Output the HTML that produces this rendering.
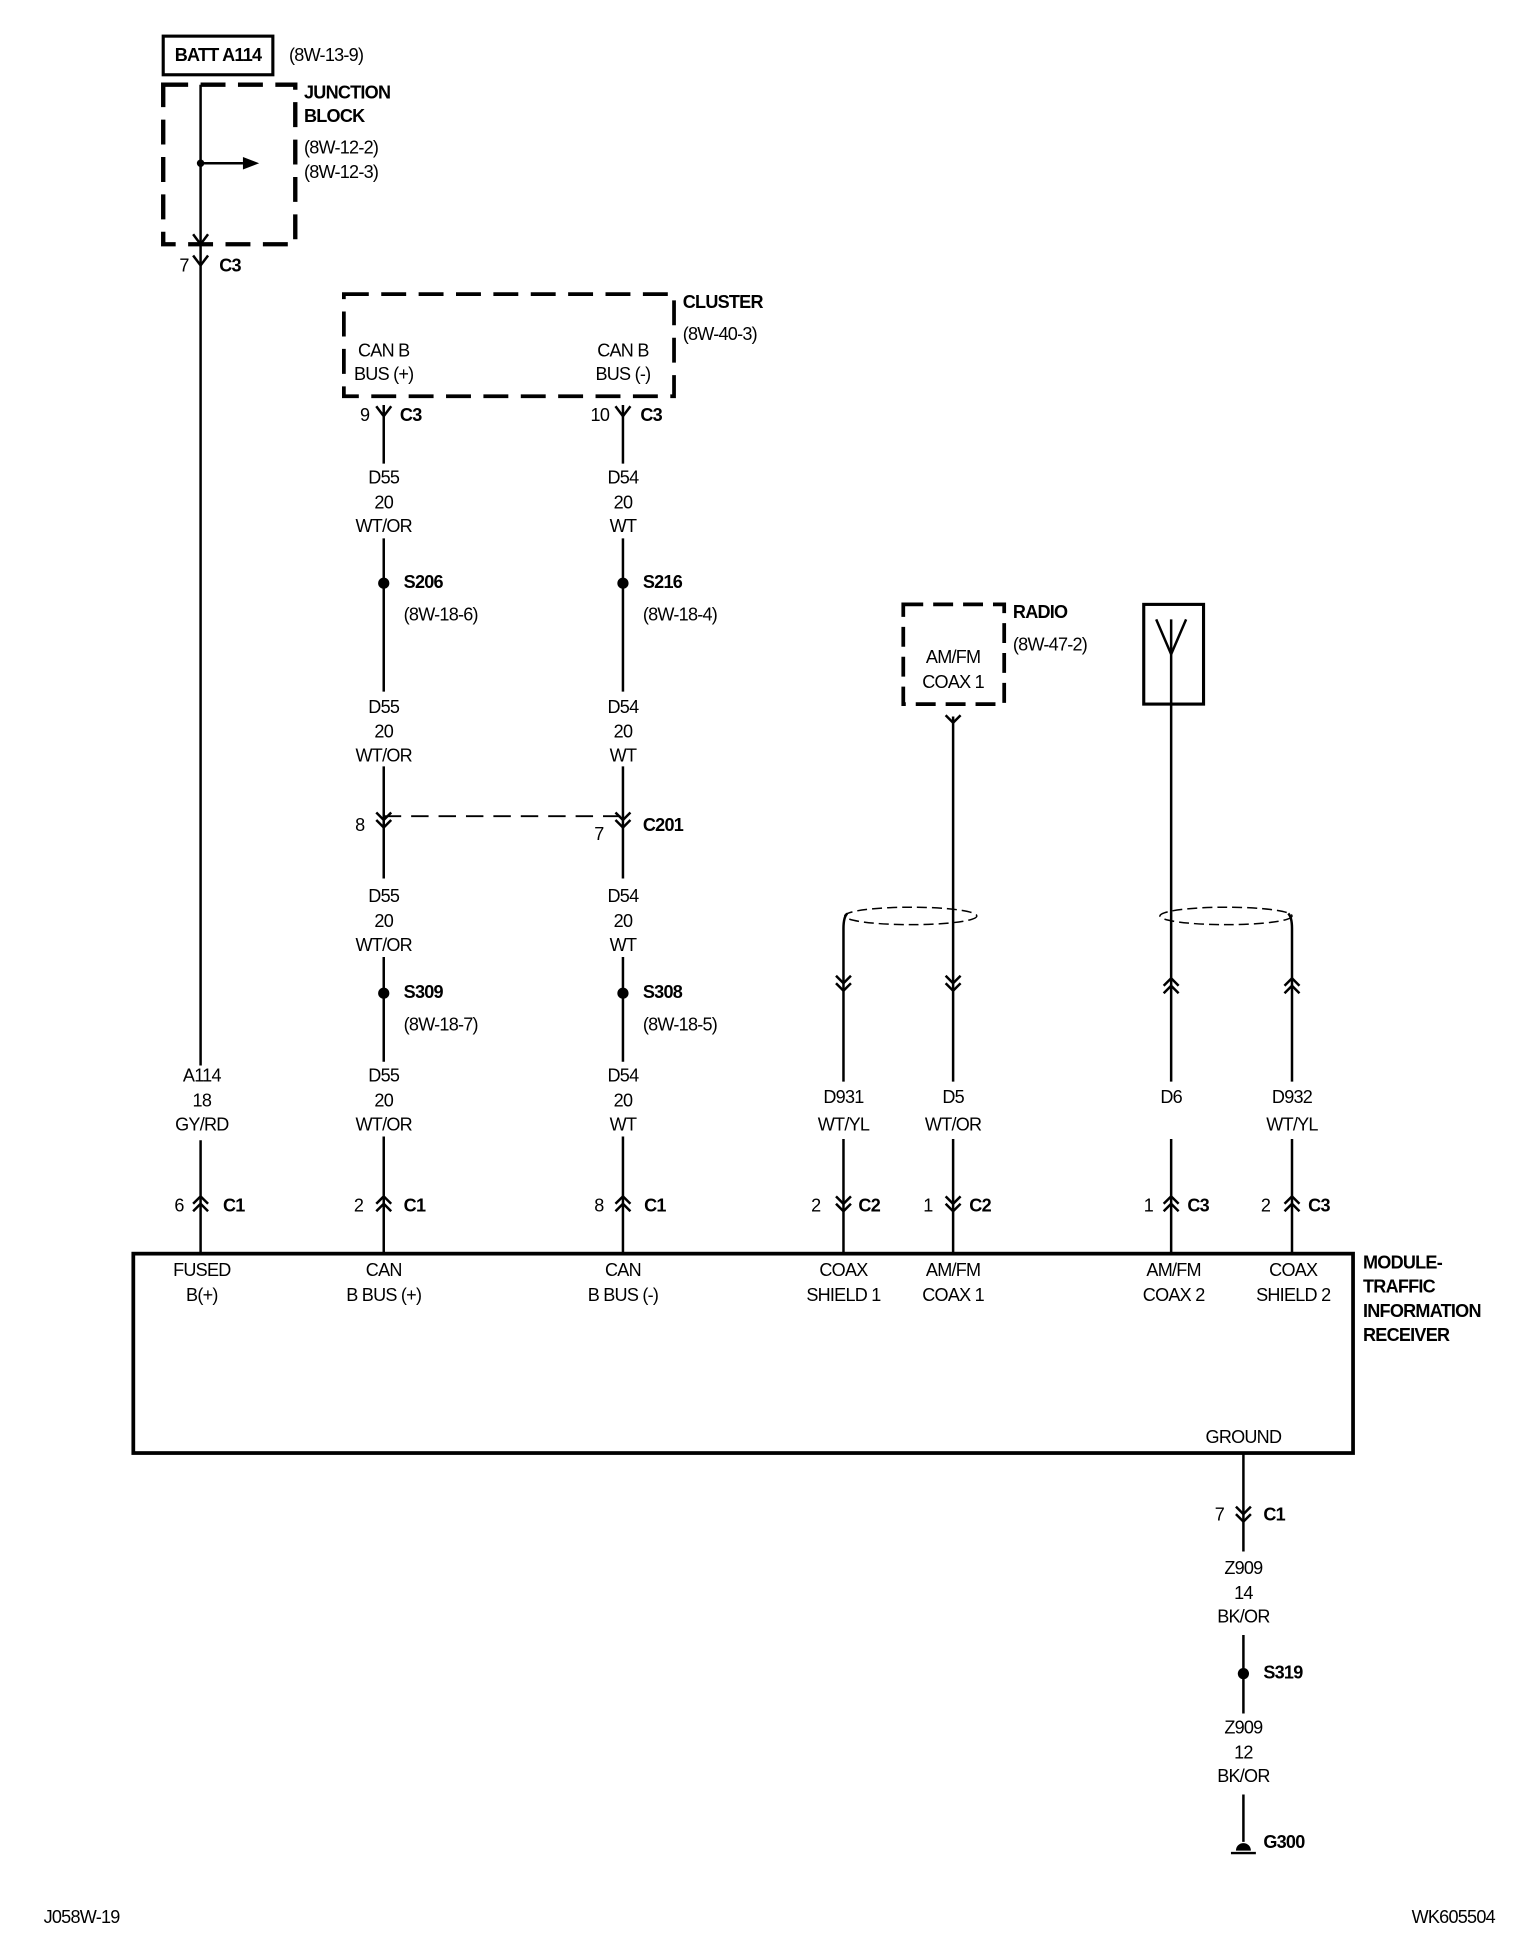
<!DOCTYPE html>
<html><head><meta charset="utf-8"><style>
html,body{margin:0;padding:0;background:#fff}
svg{display:block}
text{font-family:"Liberation Sans",Arial,sans-serif;font-size:14.5px;fill:#000;letter-spacing:-0.6px}
.b{font-weight:bold}
.m{text-anchor:middle}
</style></head><body>
<svg width="1520" height="1954" viewBox="0 0 1220 1568" preserveAspectRatio="none" xmlns="http://www.w3.org/2000/svg">
<g stroke="#000" fill="none" stroke-width="2">
<!-- BATT box -->
<rect x="131" y="29" width="88" height="31" stroke-width="2.5"/>
<!-- Junction block dashed -->
<rect x="131" y="68" width="106" height="128" stroke-width="3.5" stroke-dasharray="20,10"/>
<line x1="161" y1="68" x2="161" y2="855"/>
<line x1="161" y1="915" x2="161" y2="1006"/>
<line x1="161" y1="131" x2="195" y2="131"/>
<line x1="155" y1="188" x2="161" y2="196"/><line x1="167" y1="188" x2="161" y2="196"/>
<!-- 7 C3 Y -->
<line x1="155" y1="205" x2="161" y2="213"/><line x1="167" y1="205" x2="161" y2="213"/>
<!-- Cluster -->
<rect x="276" y="236" width="265" height="82" stroke-width="3" stroke-dasharray="20,10"/>
<!-- wires 308/500 -->
<path d="M308 325V372M308 432V555M308 615V705M308 768V852M308 912V1006"/>
<path d="M500 325V372M500 432V555M500 615V705M500 768V852M500 912V1006"/>
<path d="M302 326L308 334L314 326M494 326L500 334L506 326"/>
<!-- C201 -->
<path d="M302 652L308 658L314 652M302 658L308 664L314 658"/>
<path d="M494 652L500 658L506 652M494 658L500 664L506 658"/>
<line x1="308" y1="655" x2="500" y2="655" stroke-dasharray="14,8" stroke-width="1.5"/>
<!-- Radio -->
<rect x="725" y="485" width="81" height="80" stroke-width="3" stroke-dasharray="16,8"/>
<path d="M759 574L765 580L771 574"/>
<path d="M765 575V868M765 914V1006"/>
<!-- Antenna -->
<rect x="918" y="485" width="48" height="80" stroke-width="2.5"/>
<path d="M928 497L940 525L952 497"/>
<path d="M940 497V868M940 914V1006"/>
<!-- shields -->
<ellipse cx="731" cy="735" rx="53" ry="7" stroke-width="1.2" stroke-dasharray="8,4"/>
<ellipse cx="984" cy="735" rx="53" ry="7" stroke-width="1.2" stroke-dasharray="8,4"/>
<path d="M680 733Q677 736 677 745V868M677 914V1006"/>
<path d="M1034 733Q1037 736 1037 745V868M1037 914V1006"/>
<!-- chevrons y790 -->
<path d="M671 783L677 789L683 783M671 789L677 795L683 789"/>
<path d="M759 783L765 789L771 783M759 789L765 795L771 789"/>
<path d="M934 791L940 785L946 791M934 797L940 791L946 797"/>
<path d="M1031 791L1037 785L1043 791M1031 797L1037 791L1043 797"/>
<!-- bottom connectors y967 -->
<path d="M155 966L161 960L167 966M155 972L161 966L167 972"/>
<path d="M302 966L308 960L314 966M302 972L308 966L314 972"/>
<path d="M494 966L500 960L506 966M494 972L500 966L506 972"/>
<path d="M671 960L677 966L683 960M671 966L677 972L683 966"/>
<path d="M759 960L765 966L771 960M759 966L765 972L771 966"/>
<path d="M934 966L940 960L946 966M934 972L940 966L946 972"/>
<path d="M1031 966L1037 960L1043 966M1031 972L1037 966L1043 972"/>
<!-- module -->
<rect x="107" y="1006" width="979" height="160" stroke-width="3"/>
<!-- ground wire -->
<path d="M998 1166V1245M998 1312V1375M998 1440V1478"/>
<path d="M992 1209L998 1215L1004 1209M992 1215L998 1221L1004 1215"/>
<line x1="988" y1="1487" x2="1008" y2="1487"/>
</g>
<g fill="#000">
<polygon points="195,126 208,131 195,136"/>
<circle cx="161" cy="131" r="3"/>
<circle cx="308" cy="468" r="4.5"/><circle cx="500" cy="468" r="4.5"/>
<circle cx="308" cy="797" r="4.5"/><circle cx="500" cy="797" r="4.5"/>
<circle cx="998" cy="1343" r="4.5"/>
<path d="M992 1485A6 6 0 0 1 1004 1485Z"/>
</g>
<text x="175" y="49" class="b m">BATT A114</text>
<text x="232" y="49">(8W-13-9)</text>
<text x="244" y="79" class="b">JUNCTION</text>
<text x="244" y="98" class="b">BLOCK</text>
<text x="244" y="123">(8W-12-2)</text>
<text x="244" y="143">(8W-12-3)</text>
<text x="144" y="218">7</text><text x="176" y="218" class="b">C3</text>
<text x="548" y="247" class="b">CLUSTER</text>
<text x="548" y="273">(8W-40-3)</text>
<text x="308" y="286" class="m">CAN B</text><text x="308" y="305" class="m">BUS (+)</text>
<text x="500" y="286" class="m">CAN B</text><text x="500" y="305" class="m">BUS (-)</text>
<text x="289" y="338">9</text><text x="321" y="338" class="b">C3</text>
<text x="474" y="338">10</text><text x="514" y="338" class="b">C3</text>
<g class="m">
<text x="308" y="388" class="m">D55</text><text x="308" y="408" class="m">20</text><text x="308" y="427" class="m">WT/OR</text>
<text x="500" y="388" class="m">D54</text><text x="500" y="408" class="m">20</text><text x="500" y="427" class="m">WT</text>
<text x="308" y="572" class="m">D55</text><text x="308" y="592" class="m">20</text><text x="308" y="611" class="m">WT/OR</text>
<text x="500" y="572" class="m">D54</text><text x="500" y="592" class="m">20</text><text x="500" y="611" class="m">WT</text>
<text x="308" y="724" class="m">D55</text><text x="308" y="744" class="m">20</text><text x="308" y="763" class="m">WT/OR</text>
<text x="500" y="724" class="m">D54</text><text x="500" y="744" class="m">20</text><text x="500" y="763" class="m">WT</text>
<text x="308" y="868" class="m">D55</text><text x="308" y="888" class="m">20</text><text x="308" y="907" class="m">WT/OR</text>
<text x="500" y="868" class="m">D54</text><text x="500" y="888" class="m">20</text><text x="500" y="907" class="m">WT</text>
<text x="162" y="868" class="m">A114</text><text x="162" y="888" class="m">18</text><text x="162" y="907" class="m">GY/RD</text>
</g>
<text x="324" y="472" class="b">S206</text><text x="324" y="498">(8W-18-6)</text>
<text x="516" y="472" class="b">S216</text><text x="516" y="498">(8W-18-4)</text>
<text x="285" y="667">8</text><text x="477" y="674">7</text><text x="516" y="667" class="b">C201</text>
<text x="324" y="801" class="b">S309</text><text x="324" y="827">(8W-18-7)</text>
<text x="516" y="801" class="b">S308</text><text x="516" y="827">(8W-18-5)</text>
<text x="813" y="496" class="b">RADIO</text><text x="813" y="522">(8W-47-2)</text>
<text x="765" y="532" class="m">AM/FM</text><text x="765" y="552" class="m">COAX 1</text>
<text x="677" y="885" class="m">D931</text><text x="677" y="907" class="m">WT/YL</text>
<text x="765" y="885" class="m">D5</text><text x="765" y="907" class="m">WT/OR</text>
<text x="940" y="885" class="m">D6</text>
<text x="1037" y="885" class="m">D932</text><text x="1037" y="907" class="m">WT/YL</text>
<text x="140" y="972">6</text><text x="179" y="972" class="b">C1</text>
<text x="284" y="972">2</text><text x="324" y="972" class="b">C1</text>
<text x="477" y="972">8</text><text x="517" y="972" class="b">C1</text>
<text x="651" y="972">2</text><text x="689" y="972" class="b">C2</text>
<text x="741" y="972">1</text><text x="778" y="972" class="b">C2</text>
<text x="918" y="972">1</text><text x="953" y="972" class="b">C3</text>
<text x="1012" y="972">2</text><text x="1050" y="972" class="b">C3</text>
<text x="162" y="1024" class="m">FUSED</text><text x="162" y="1044" class="m">B(+)</text>
<text x="308" y="1024" class="m">CAN</text><text x="308" y="1044" class="m">B BUS (+)</text>
<text x="500" y="1024" class="m">CAN</text><text x="500" y="1044" class="m">B BUS (-)</text>
<text x="677" y="1024" class="m">COAX</text><text x="677" y="1044" class="m">SHIELD 1</text>
<text x="765" y="1024" class="m">AM/FM</text><text x="765" y="1044" class="m">COAX 1</text>
<text x="942" y="1024" class="m">AM/FM</text><text x="942" y="1044" class="m">COAX 2</text>
<text x="1038" y="1024" class="m">COAX</text><text x="1038" y="1044" class="m">SHIELD 2</text>
<text x="1094" y="1018" class="b">MODULE-</text><text x="1094" y="1037" class="b">TRAFFIC</text>
<text x="1094" y="1057" class="b">INFORMATION</text><text x="1094" y="1076" class="b">RECEIVER</text>
<text x="998" y="1158" class="m">GROUND</text>
<text x="975" y="1220">7</text><text x="1014" y="1220" class="b">C1</text>
<text x="998" y="1263" class="m">Z909</text><text x="998" y="1283" class="m">14</text><text x="998" y="1302" class="m">BK/OR</text>
<text x="1014" y="1347" class="b">S319</text>
<text x="998" y="1391" class="m">Z909</text><text x="998" y="1411" class="m">12</text><text x="998" y="1430" class="m">BK/OR</text>
<text x="1014" y="1483" class="b">G300</text>
<text x="35" y="1543">J058W-19</text>
<text x="1133" y="1543">WK605504</text>
</svg>
</body></html>
